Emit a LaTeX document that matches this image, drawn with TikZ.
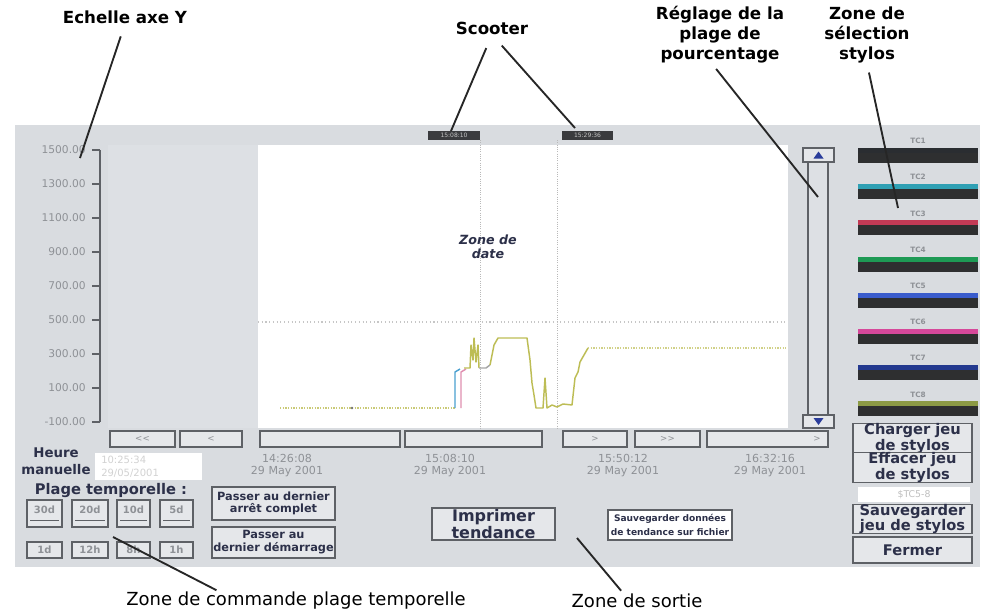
\documentclass[tikz,border=0pt]{standalone}
\usepackage{fontspec}
\setmainfont{DejaVu Sans}
\usepackage{graphicx}

% screen colours
\definecolor{panel}{HTML}{D9DCE0}
\definecolor{plotside}{HTML}{DDE0E4}
\definecolor{btnface}{HTML}{E5E7EA}
\definecolor{btnedge}{HTML}{5E6166}
\definecolor{btntext}{HTML}{2C3049}
\definecolor{faint}{HTML}{8E9196}
\definecolor{tagdark}{HTML}{3A3B3E}
\definecolor{penbar}{HTML}{2E2F30}
\definecolor{arrowblue}{HTML}{2B3D9B}
% pen colours
\definecolor{penA}{HTML}{2A2D31}
\definecolor{penB}{HTML}{2FA0B4}
\definecolor{penC}{HTML}{C23A55}
\definecolor{penD}{HTML}{1E9A55}
\definecolor{penE}{HTML}{3A5CCC}
\definecolor{penF}{HTML}{D6489A}
\definecolor{penG}{HTML}{23398F}
\definecolor{penH}{HTML}{8C9A45}
% trace colours
\definecolor{olivetrace}{HTML}{BDBD55}
\definecolor{bluetrace}{HTML}{4AA0D0}
\definecolor{pinktrace}{HTML}{E08FB0}

\begin{document}
\begin{tikzpicture}[x=0.75pt,y=-0.75pt,
  lbl/.style={font=\fontsize{12.5}{15}\selectfont\bfseries, align=center, text=black, inner sep=0pt},
  lblbot/.style={font=\fontsize{13.5}{16}\selectfont, text=black, inner sep=0pt},
  leader/.style={draw=black!85, line width=1.4pt},
  bw/.style={minimum width=(#1)*0.75pt},
  bh/.style={minimum height=(#1)*0.75pt},
  btn/.style={draw=btnedge, fill=btnface, line width=0.9pt, inner sep=0pt, outer sep=0pt,
              align=center, text=btntext},
  smallbtn/.style={btn, font=\fontsize{6.5}{7}\selectfont, text=faint},
  rangetxt/.style={font=\fontsize{7.5}{8}\selectfont\bfseries, text=faint, inner sep=0pt},
  axislbl/.style={font=\fontsize{8}{9}\selectfont, text=faint, anchor=east, inner sep=0pt},
  timelbl/.style={font=\fontsize{8.3}{9}\selectfont, text=faint, align=center, inner sep=0pt},
  penlbl/.style={font=\fontsize{5.5}{6}\selectfont\bfseries, text=faint, inner sep=0pt},
  trace/.style={line width=1.1pt, line join=round},
]
\useasboundingbox (0,0) rectangle (981,612);
\fill[white] (0,0) rectangle (981,612);

% ---------- trend window ----------
\fill[panel] (15,125) rectangle (980,567);
\fill[plotside] (108,145) rectangle (258,428);
\fill[white] (258,145) rectangle (788,428);

% Y axis with its scale
\draw[btnedge, line width=1.3pt] (100,150) -- (100,422);
\foreach \v [count=\i from 0] in {1500.00,1300.00,1100.00,900.00,700.00,500.00,300.00,100.00,-100.00} {
  \pgfmathsetmacro{\yy}{150+34*\i}
  \draw[btnedge, line width=1.3pt] (92,\yy) -- (100,\yy);
  \node[axislbl] (ax\i) at (86,\yy) {\v};
}

% grid and scooter cursors
\draw[gray!45, dotted, line width=0.8pt] (258,322) -- (788,322);
\draw[gray!55, densely dotted, line width=0.7pt] (480,140) -- (480,430);
\draw[gray!55, densely dotted, line width=0.7pt] (557,140) -- (557,430);
\node[fill=tagdark, bw=52, bh=9, inner sep=0pt, text=gray!45,
      font=\fontsize{4.5}{5}\selectfont] (scA) at (454,135.5) {15:08:10};
\node[fill=tagdark, bw=51, bh=9, inner sep=0pt, text=gray!45,
      font=\fontsize{4.5}{5}\selectfont] (scB) at (587.5,135.5) {15:29:36};

% recorded traces
\draw[olivetrace!80, densely dotted, line width=1pt] (280,408) -- (455,408);
\fill[black!55] (352,408) circle (1.4);
\draw[trace, bluetrace] (455,408) -- (455,372) -- (460,369);
\draw[trace, pinktrace] (461,408) -- (461,372) -- (466,369);
\draw[trace, olivetrace] (464,368) -- (470,368) -- (471,345) -- (473,360) -- (474,338)
  -- (476,362) -- (478,345) -- (479,368);
\draw[trace, gray!70] (479,368) -- (486,368) -- (490,365);
\draw[trace, olivetrace] (490,365) -- (494,345) -- (498,338) -- (527,338) -- (530,360)
  -- (532,383) -- (534,395) -- (536,408) -- (543,408) -- (545,378) -- (547,408)
  -- (552,405) -- (557,407) -- (563,404) -- (572,405) -- (575,378) -- (578,372)
  -- (580,362) -- (588,348);
\draw[olivetrace!70, densely dotted, line width=1pt] (588,348) -- (786,348);

\node[font=\fontsize{9.5}{10.5}\selectfont\bfseries\itshape, align=center, text=btntext,
      inner sep=0pt] (zdate) at (488,247) {Zone de\\date};

% percentage range slider
\fill[plotside] (807,162) rectangle (829,415);
\draw[btnedge, line width=2pt] (808,162) -- (808,415);
\draw[btnedge, line width=2pt] (828,162) -- (828,415);
\node[btn, bw=31, bh=14] (slUp) at (818.5,155) {};
\fill[arrowblue] (813.5,158.5) -- (823.5,158.5) -- (818.5,151.5) -- cycle;
\node[btn, bw=31, bh=13] (slDown) at (818.5,421.5) {};
\fill[arrowblue] (813.5,418) -- (823.5,418) -- (818.5,425) -- cycle;

% pen selection
\foreach \c [count=\i] in {penA,penB,penC,penD,penE,penF,penG,penH} {
  \pgfmathsetmacro{\yy}{141+36.2*(\i-1)}
  \node[penlbl] (tc\i) at (918,\yy) {TC\i};
  \fill[\c] (858,\yy+7) rectangle (978,\yy+12);
  \fill[penbar] (858,\yy+12) rectangle (978,\yy+22);
}

% right-hand buttons
\node[btn, bw=119, bh=27, font=\fontsize{11}{11.5}\selectfont\bfseries] (bLoad) at (912.5,438.5) {Charger jeu\\de stylos};
\node[btn, bw=119, bh=25, font=\fontsize{11}{11.5}\selectfont\bfseries] (bClear) at (912.5,467.5) {Effacer jeu\\de stylos};
\node[fill=white, bw=112, bh=15, inner sep=0pt, text=gray!50,
      font=\fontsize{7}{8}\selectfont] (fSet) at (914,494.5) {\$TC5-8};
\node[btn, bw=119, bh=28, font=\fontsize{11}{11.5}\selectfont\bfseries] (bSave) at (912.5,519) {Sauvegarder\\jeu de stylos};
\node[btn, bw=119, bh=26, font=\fontsize{11}{11.5}\selectfont\bfseries] (bClose) at (912.5,550) {Fermer};

% time scroll buttons
\foreach \xa/\xb/\t [count=\k] in {110/175/{<{}<}, 180/242/{<}, 260/400/{}, 405/542/{}, 563/627/{>}, 635/700/{>{}>}, 707/828/{}} {
  \node[smallbtn, bw=\xb-\xa, bh=16] (scr\k) at ({(\xa+\xb)/2},439) {\t};
}
\node[font=\fontsize{6.5}{7}\selectfont, text=faint, inner sep=0pt] (scrEnd) at (817,439) {>};

% time stamps
\node[timelbl] (t1) at (287,466) {14:26:08\\29 May 2001};
\node[timelbl] (t2) at (450,466) {15:08:10\\29 May 2001};
\node[timelbl] (t3) at (623,466) {15:50:12\\29 May 2001};
\node[timelbl] (t4) at (770,466) {16:32:16\\29 May 2001};

% manual time
\node[font=\fontsize{10}{12.75}\selectfont\bfseries, text=btntext, align=center, inner sep=0pt]
  (hm) at (56,461.5) {Heure\\manuelle};
\node[fill=white, bw=107, bh=27, inner sep=0pt] (hmField) at (148.5,466.5) {};
\node[font=\fontsize{7.5}{9.5}\selectfont, text=gray!35, align=left, anchor=west, inner sep=0pt]
  (hmVal) at (101,466.5) {10:25:34\\29/05/2001};

% time range
\node[font=\fontsize{11}{12}\selectfont\bfseries, text=btntext, inner sep=0pt] (pt) at (111,490) {Plage temporelle :};
\foreach \xa/\xb/\t [count=\k] in {27/62/30d, 72/108/20d, 117/150/10d, 160/193/5d} {
  \node[btn, bw=\xb-\xa, bh=27] (rng\k) at ({(\xa+\xb)/2},513.5) {};
  \draw[btnedge, line width=0.6pt] (\xa+3,520) -- (\xb-3,520);
  \node[rangetxt] (rngt\k) at ({(\xa+\xb)/2},510) {\t};
}
\foreach \xa/\xb/\t [count=\k] in {27/62/1d, 72/108/12h, 117/150/8h, 160/193/1h} {
  \node[btn, bw=\xb-\xa, bh=16, font=\fontsize{7.5}{8}\selectfont\bfseries, text=faint] (per\k) at ({(\xa+\xb)/2},550) {\t};
}
\node[btn, bw=123, bh=33, font=\fontsize{8.5}{9}\selectfont\bfseries] (bStop) at (273.5,503.5) {Passer au dernier\\arrêt complet};
\node[btn, bw=123, bh=31, font=\fontsize{8.5}{9.75}\selectfont\bfseries] (bStart) at (273.5,542.5) {Passer au\\dernier démarrage};

% output
\node[btn, bw=123, bh=32, font=\fontsize{12}{11}\selectfont\bfseries] (bPrint) at (493.5,524) {Imprimer\\tendance};
\node[btn, fill=white, bw=124, bh=30, font=\fontsize{6.8}{10.5}\selectfont\bfseries] (bFile) at (670,525) {Sauvegarder données\\de tendance sur fichier};

% ---------- annotations ----------
\node[lbl] (lEch) at (125,17) {Echelle axe Y};
\node[lbl] (lSc) at (492,28) {Scooter};
\node[lbl] (lReg) at (720,35) {Réglage de la\\plage de\\pourcentage};
\node[lbl] (lSel) at (867,35) {Zone de\\sélection\\stylos};
\node[lblbot] (lCmd) at (296,601) {Zone de commande plage temporelle};
\node[lblbot] (lOut) at (637,601) {Zone de sortie};

\coordinate (pEch) at (80,158);
\coordinate (pScA) at (451,131);
\coordinate (pScB) at (575,128);
\coordinate (pReg) at (818,197);
\coordinate (pSel) at (898,208);
\coordinate (pCmd) at (113,537);
\coordinate (pOut) at (577,538);

\draw[leader, shorten <=10pt] (lEch.south) -- (pEch);
\draw[leader, shorten <=11pt] (lSc.south) -- (pScA);
\draw[leader, shorten <=11pt] (lSc.south) -- (pScB);
\draw[leader, shorten <=5pt] ([xshift=-6pt]lReg.south) -- (pReg);
\draw[leader, shorten <=7pt] (lSel.south) -- (pSel);
\draw[leader, shorten <=3pt] ([xshift=-57pt]lCmd.north) -- (pCmd);
\draw[leader, shorten <=3pt] ([xshift=-10pt]lOut.north) -- (pOut);
\end{tikzpicture}
\end{document}
